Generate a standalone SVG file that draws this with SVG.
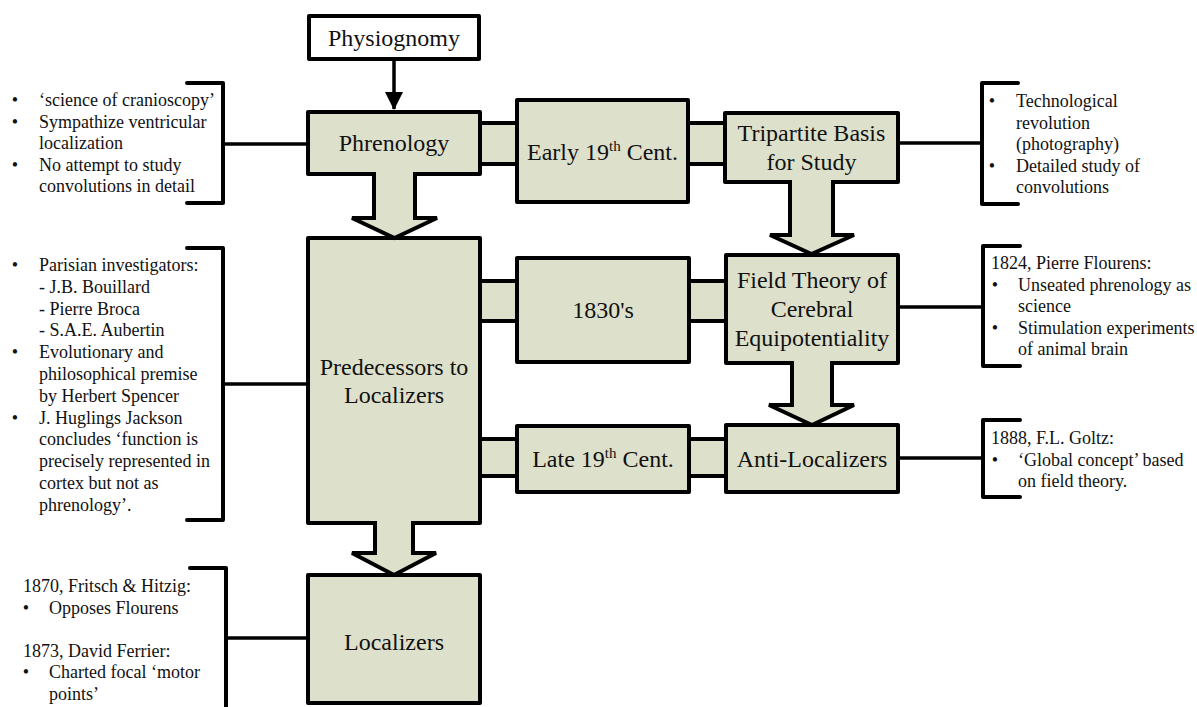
<svg xmlns="http://www.w3.org/2000/svg" width="1197" height="707" viewBox="0 0 1197 707">
<style>
.box{fill:#dde0cb;stroke:#000;stroke-width:4;stroke-linejoin:round}
.wbox{fill:#fff;stroke:#000;stroke-width:4;stroke-linejoin:round}
.bar{fill:#dde0cb;stroke:#000;stroke-width:4}
.blk{fill:#dde0cb;stroke:#000;stroke-width:4;stroke-linejoin:miter}
.br{fill:none;stroke:#000;stroke-width:4;stroke-linecap:round;stroke-linejoin:round}
.ln{fill:none;stroke:#000;stroke-width:3.5}
.t{font-family:"Liberation Serif","Times New Roman",serif;font-size:24px;fill:#111;text-anchor:middle}
.n{font-family:"Liberation Serif","Times New Roman",serif;font-size:18px;fill:#111}
.bul{font-family:"Liberation Serif","Times New Roman",serif;font-size:18px;fill:#111;text-anchor:middle}
</style>
<defs>
<marker id="ah" markerUnits="userSpaceOnUse" markerWidth="18" markerHeight="24" refX="17" refY="9" orient="auto">
<path d="M0,0 L18,9 L0,18 Z" fill="#000"/>
</marker>
</defs>

<g id="connectors">
<line class="ln" x1="394" y1="59" x2="394" y2="109" stroke-width="4" marker-end="url(#ah)"/>
<rect class="bar" x="470" y="123" width="55" height="41"/>
<rect class="bar" x="680" y="123" width="55" height="41"/>
<rect class="bar" x="470" y="281" width="55" height="40"/>
<rect class="bar" x="680" y="281" width="55" height="40"/>
<rect class="bar" x="470" y="439" width="55" height="37"/>
<rect class="bar" x="680" y="439" width="55" height="37"/>
<line class="ln" x1="223" y1="144" x2="308" y2="144"/>
<line class="ln" x1="898" y1="143" x2="982" y2="143"/>
<line class="ln" x1="223" y1="384" x2="308" y2="384"/>
<line class="ln" x1="898" y1="307" x2="983" y2="307"/>
<line class="ln" x1="898" y1="458" x2="983" y2="458"/>
<line class="ln" x1="226" y1="638" x2="308" y2="638"/>
</g>

<g id="physiognomy">
<rect class="wbox" x="309" y="16" width="170" height="43"/>
<text class="t" x="394" y="46">Physiognomy</text>
</g>

<g id="phrenology">
<rect class="box" x="308" y="112" width="172" height="62"/>
<text class="t" x="394" y="151">Phrenology</text>
</g>

<g id="early19">
<rect class="box" x="517" y="100" width="171" height="102"/>
<text class="t" x="602.5" y="160">Early 19<tspan font-size="15" dy="-9">th</tspan><tspan dy="9"> Cent.</tspan></text>
</g>

<g id="tripartite">
<rect class="box" x="725" y="113" width="173" height="69"/>
<text class="t" x="811.5" y="141">Tripartite Basis</text>
<text class="t" x="811.5" y="170">for Study</text>
</g>

<g id="predecessors">
<rect class="box" x="308" y="238" width="172" height="285"/>
<text class="t" x="394" y="375">Predecessors to</text>
<text class="t" x="394" y="403">Localizers</text>
</g>

<g id="d1830s">
<rect class="box" x="517" y="258" width="172" height="104"/>
<text class="t" x="603" y="318">1830's</text>
</g>

<g id="fieldtheory">
<rect class="box" x="726" y="255" width="172" height="108"/>
<text class="t" x="812" y="288">Field Theory of</text>
<text class="t" x="812" y="317">Cerebral</text>
<text class="t" x="812" y="346">Equipotentiality</text>
</g>

<g id="late19">
<rect class="box" x="517" y="426" width="172" height="66"/>
<text class="t" x="603" y="467">Late 19<tspan font-size="15" dy="-9">th</tspan><tspan dy="9"> Cent.</tspan></text>
</g>

<g id="antilocalizers">
<rect class="box" x="726" y="425" width="172" height="67"/>
<text class="t" x="812" y="467">Anti-Localizers</text>
</g>

<g id="localizers">
<rect class="box" x="308" y="575" width="172" height="128"/>
<text class="t" x="394" y="650">Localizers</text>
</g>

<g id="block-arrows">
<path class="blk" d="M374,172 L374,218 L352,218 L394.5,238 L437,218 L415,218 L415,172"/>
<path class="blk" d="M375,521 L375,553 L352,553 L394,575 L436,553 L413,553 L413,521"/>
<path class="blk" d="M790,180 L790,235 L770,235 L811.5,254 L854,235 L833,235 L833,180"/>
<path class="blk" d="M792,361 L792,405 L769,405 L812,425 L854,405 L832,405 L832,361"/>
</g>

<g id="note-phrenology">
<path class="br" d="M187,83 H223 V203 H187"/>
<text class="bul" x="15" y="106">•</text>
<text class="n" x="39" y="106">‘science of cranioscopy’</text>
<text class="bul" x="15" y="127.6">•</text>
<text class="n" x="39" y="127.6">Sympathize ventricular</text>
<text class="n" x="39" y="149.2">localization</text>
<text class="bul" x="15" y="170.8">•</text>
<text class="n" x="39" y="170.8">No attempt to study</text>
<text class="n" x="39" y="192.4">convolutions in detail</text>
</g>

<g id="note-tripartite">
<path class="br" d="M1018,83 H982 V204 H1018"/>
<text class="bul" x="992" y="107">•</text>
<text class="n" x="1016" y="107">Technological</text>
<text class="n" x="1016" y="128.6">revolution</text>
<text class="n" x="1016" y="150.2">(photography)</text>
<text class="bul" x="992" y="171.8">•</text>
<text class="n" x="1016" y="171.8">Detailed study of</text>
<text class="n" x="1016" y="193.4">convolutions</text>
</g>

<g id="note-predecessors">
<path class="br" d="M187,248 H223 V520 H187"/>
<text class="bul" x="15" y="271">•</text>
<text class="n" x="39" y="271">Parisian investigators:</text>
<text class="n" x="39" y="292.8">- J.B. Bouillard</text>
<text class="n" x="39" y="314.6">- Pierre Broca</text>
<text class="n" x="39" y="336.4">- S.A.E. Aubertin</text>
<text class="bul" x="15" y="358.2">•</text>
<text class="n" x="39" y="358.2">Evolutionary and</text>
<text class="n" x="39" y="380">philosophical premise</text>
<text class="n" x="39" y="401.8">by Herbert Spencer</text>
<text class="bul" x="15" y="423.6">•</text>
<text class="n" x="39" y="423.6">J. Huglings Jackson</text>
<text class="n" x="39" y="445.4">concludes ‘function is</text>
<text class="n" x="39" y="467.2">precisely represented in</text>
<text class="n" x="39" y="489">cortex but not as</text>
<text class="n" x="39" y="510.8">phrenology’.</text>
</g>

<g id="note-field">
<path class="br" d="M1020,246 H983 V366 H1020"/>
<text class="n" x="991" y="269">1824, Pierre Flourens:</text>
<text class="bul" x="995" y="290.6">•</text>
<text class="n" x="1018" y="290.6">Unseated phrenology as</text>
<text class="n" x="1018" y="312.2">science</text>
<text class="bul" x="995" y="333.8">•</text>
<text class="n" x="1018" y="333.8">Stimulation experiments</text>
<text class="n" x="1018" y="355.4">of animal brain</text>
</g>

<g id="note-anti">
<path class="br" d="M1020,420 H983 V497 H1020"/>
<text class="n" x="991" y="444">1888, F.L. Goltz:</text>
<text class="bul" x="995" y="465.6">•</text>
<text class="n" x="1018" y="465.6">‘Global concept’ based</text>
<text class="n" x="1018" y="487.2">on field theory.</text>
</g>

<g id="note-localizers">
<path class="br" d="M190,568 H226 V712"/>
<text class="n" x="23" y="592">1870, Fritsch &amp; Hitzig:</text>
<text class="bul" x="26" y="613.6">•</text>
<text class="n" x="49" y="613.6">Opposes Flourens</text>
<text class="n" x="23" y="656.8">1873, David Ferrier:</text>
<text class="bul" x="26" y="678.4">•</text>
<text class="n" x="49" y="678.4">Charted focal ‘motor</text>
<text class="n" x="49" y="700">points’</text>
</g>
</svg>
